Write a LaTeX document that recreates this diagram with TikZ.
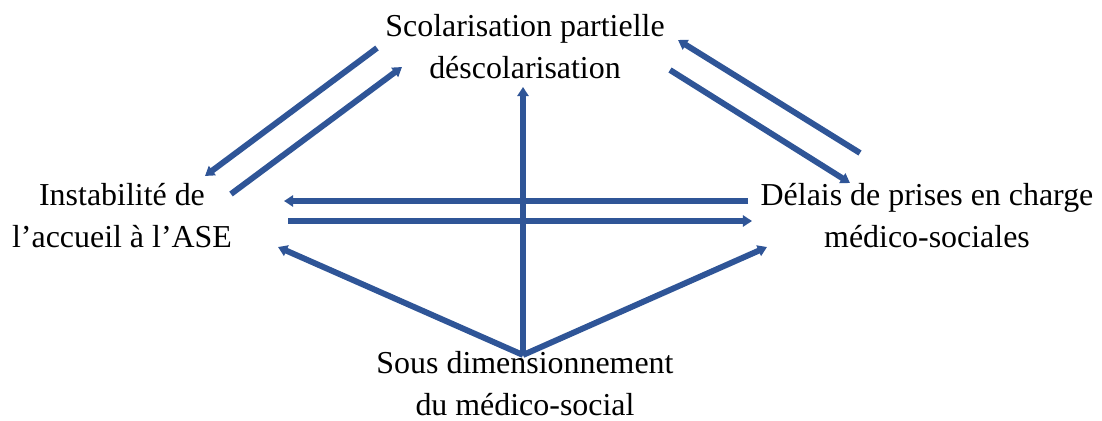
\documentclass[tikz,border=0pt]{standalone}
\usepackage{fontspec}
\setmainfont{Liberation Serif}
\usepackage{tikz}
\usetikzlibrary{arrows.meta}
\usepackage{xcolor}
\definecolor{ardoise}{HTML}{2F5597}

\begin{document}
\begin{tikzpicture}[x=0.025cm, y=-0.025cm,
        label/.style={font=\fontsize{22.7}{29.8}\selectfont, align=center, inner sep=0pt},
        link/.style={line width=4.2pt, color=ardoise, -{Triangle[length=6.5pt,width=8pt]}}]
        \useasboundingbox (0,0) rectangle (1102,420);

        % Les quatre postes
        \node[label] (scol) at (525,47) {Scolarisation partielle\\déscolarisation};
        \node[label] (instab) at (122,216) {Instabilité de\\l’accueil à l’ASE};
        \node[label] (delais) at (927,216) {Délais de prises en charge\\médico-sociales};
        \node[label] (sous) at (525,384) {Sous dimensionnement\\du médico-social};

        % Points d'accroche des fleches
        \coordinate (scolA) at (377,48);   \coordinate (instabA) at (205,176);
        \coordinate (instabB) at (231,194); \coordinate (scolB) at (402,67);
        \coordinate (delaisA) at (860,153); \coordinate (scolC) at (678,40);
        \coordinate (scolD) at (670,70);    \coordinate (delaisB) at (850,183);
        \coordinate (delaisC) at (748,201); \coordinate (instabC) at (284,201);
        \coordinate (instabD) at (288,221); \coordinate (delaisD) at (752,221);
        \coordinate (sousA) at (523,355);   \coordinate (scolE) at (523,87);
        \coordinate (instabE) at (278,247); \coordinate (delaisE) at (767,247);

        % Scolarisation <-> Instabilite
        \draw[link] (scolA) -- (instabA);
        \draw[link] (instabB) -- (scolB);
        % Scolarisation <-> Delais
        \draw[link] (delaisA) -- (scolC);
        \draw[link] (scolD) -- (delaisB);
        % Instabilite <-> Delais
        \draw[link] (delaisC) -- (instabC);
        \draw[link] (instabD) -- (delaisD);
        % Sous dimensionnement vers les trois autres
        \draw[link] (sousA) -- (scolE);
        \draw[link] (sousA) -- (instabE);
        \draw[link] (sousA) -- (delaisE);
    \end{tikzpicture}
\end{document}
